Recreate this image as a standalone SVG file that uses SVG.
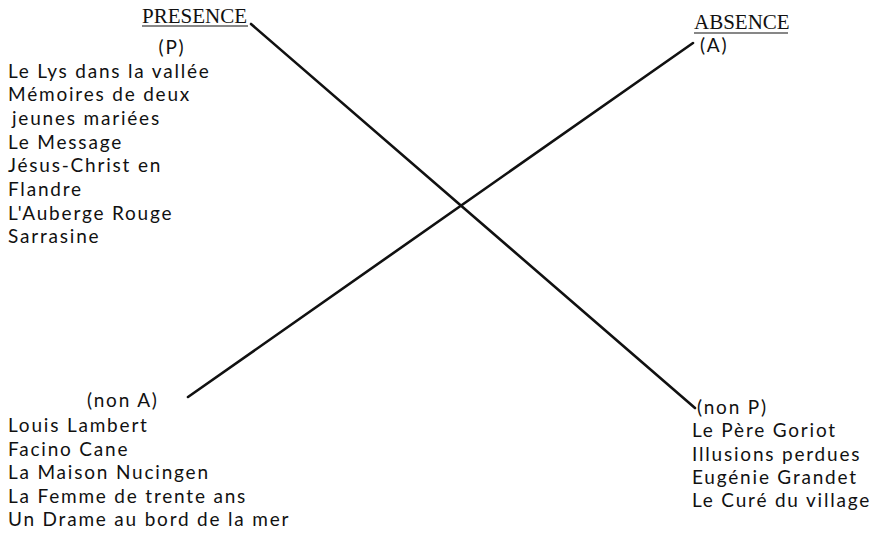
<svg xmlns="http://www.w3.org/2000/svg" width="878" height="543" viewBox="0 0 878 543">
<style>
.t{font-family:Lato,"Open Sans",sans-serif;font-size:19px;letter-spacing:1.8px;fill:#111}
.h{font-family:"Liberation Serif",serif;font-size:21px;fill:#111}
.u{stroke:#111;stroke-width:1.2}
.ln{stroke:#111;stroke-width:2.6;stroke-linecap:round;fill:none}
</style>
<rect width="878" height="543" fill="#fff"/>
<g id="connectors">
<line class="ln" x1="251" y1="24" x2="695" y2="408"/>
<line class="ln" x1="188" y1="397" x2="693" y2="43"/>
</g>
<g id="presence">
<text class="h" x="142" y="23">PRESENCE</text>
<line class="u" x1="142" y1="26" x2="248" y2="26"/>
<text class="t" x="172" y="54" text-anchor="middle">(P)</text>
<text class="t"><tspan x="8" y="78">Le Lys dans la vallée</tspan><tspan x="8" y="101">Mémoires de deux</tspan><tspan x="12" y="125">jeunes mariées</tspan><tspan x="8" y="149">Le Message</tspan><tspan x="8" y="172">Jésus-Christ en</tspan><tspan x="8" y="196">Flandre</tspan><tspan x="8" y="220">L'Auberge Rouge</tspan><tspan x="8" y="243">Sarrasine</tspan></text>
</g>
<g id="absence">
<text class="h" x="694" y="29">ABSENCE</text>
<line class="u" x1="694" y1="33" x2="788" y2="33"/>
<text class="t" x="700" y="52">(A)</text>
</g>
<g id="non-a">
<text class="t" x="87" y="407">(non A)</text>
<text class="t"><tspan x="8" y="432">Louis Lambert</tspan><tspan x="8" y="456">Facino Cane</tspan><tspan x="8" y="479">La Maison Nucingen</tspan><tspan x="8" y="503">La Femme de trente ans</tspan><tspan x="8" y="526">Un Drame au bord de la mer</tspan></text>
</g>
<g id="non-p">
<text class="t" x="697" y="414">(non P)</text>
<text class="t"><tspan x="692" y="437">Le Père Goriot</tspan><tspan x="692" y="461">Illusions perdues</tspan><tspan x="692" y="484">Eugénie Grandet</tspan><tspan x="692" y="507">Le Curé du village</tspan></text>
</g>
</svg>
